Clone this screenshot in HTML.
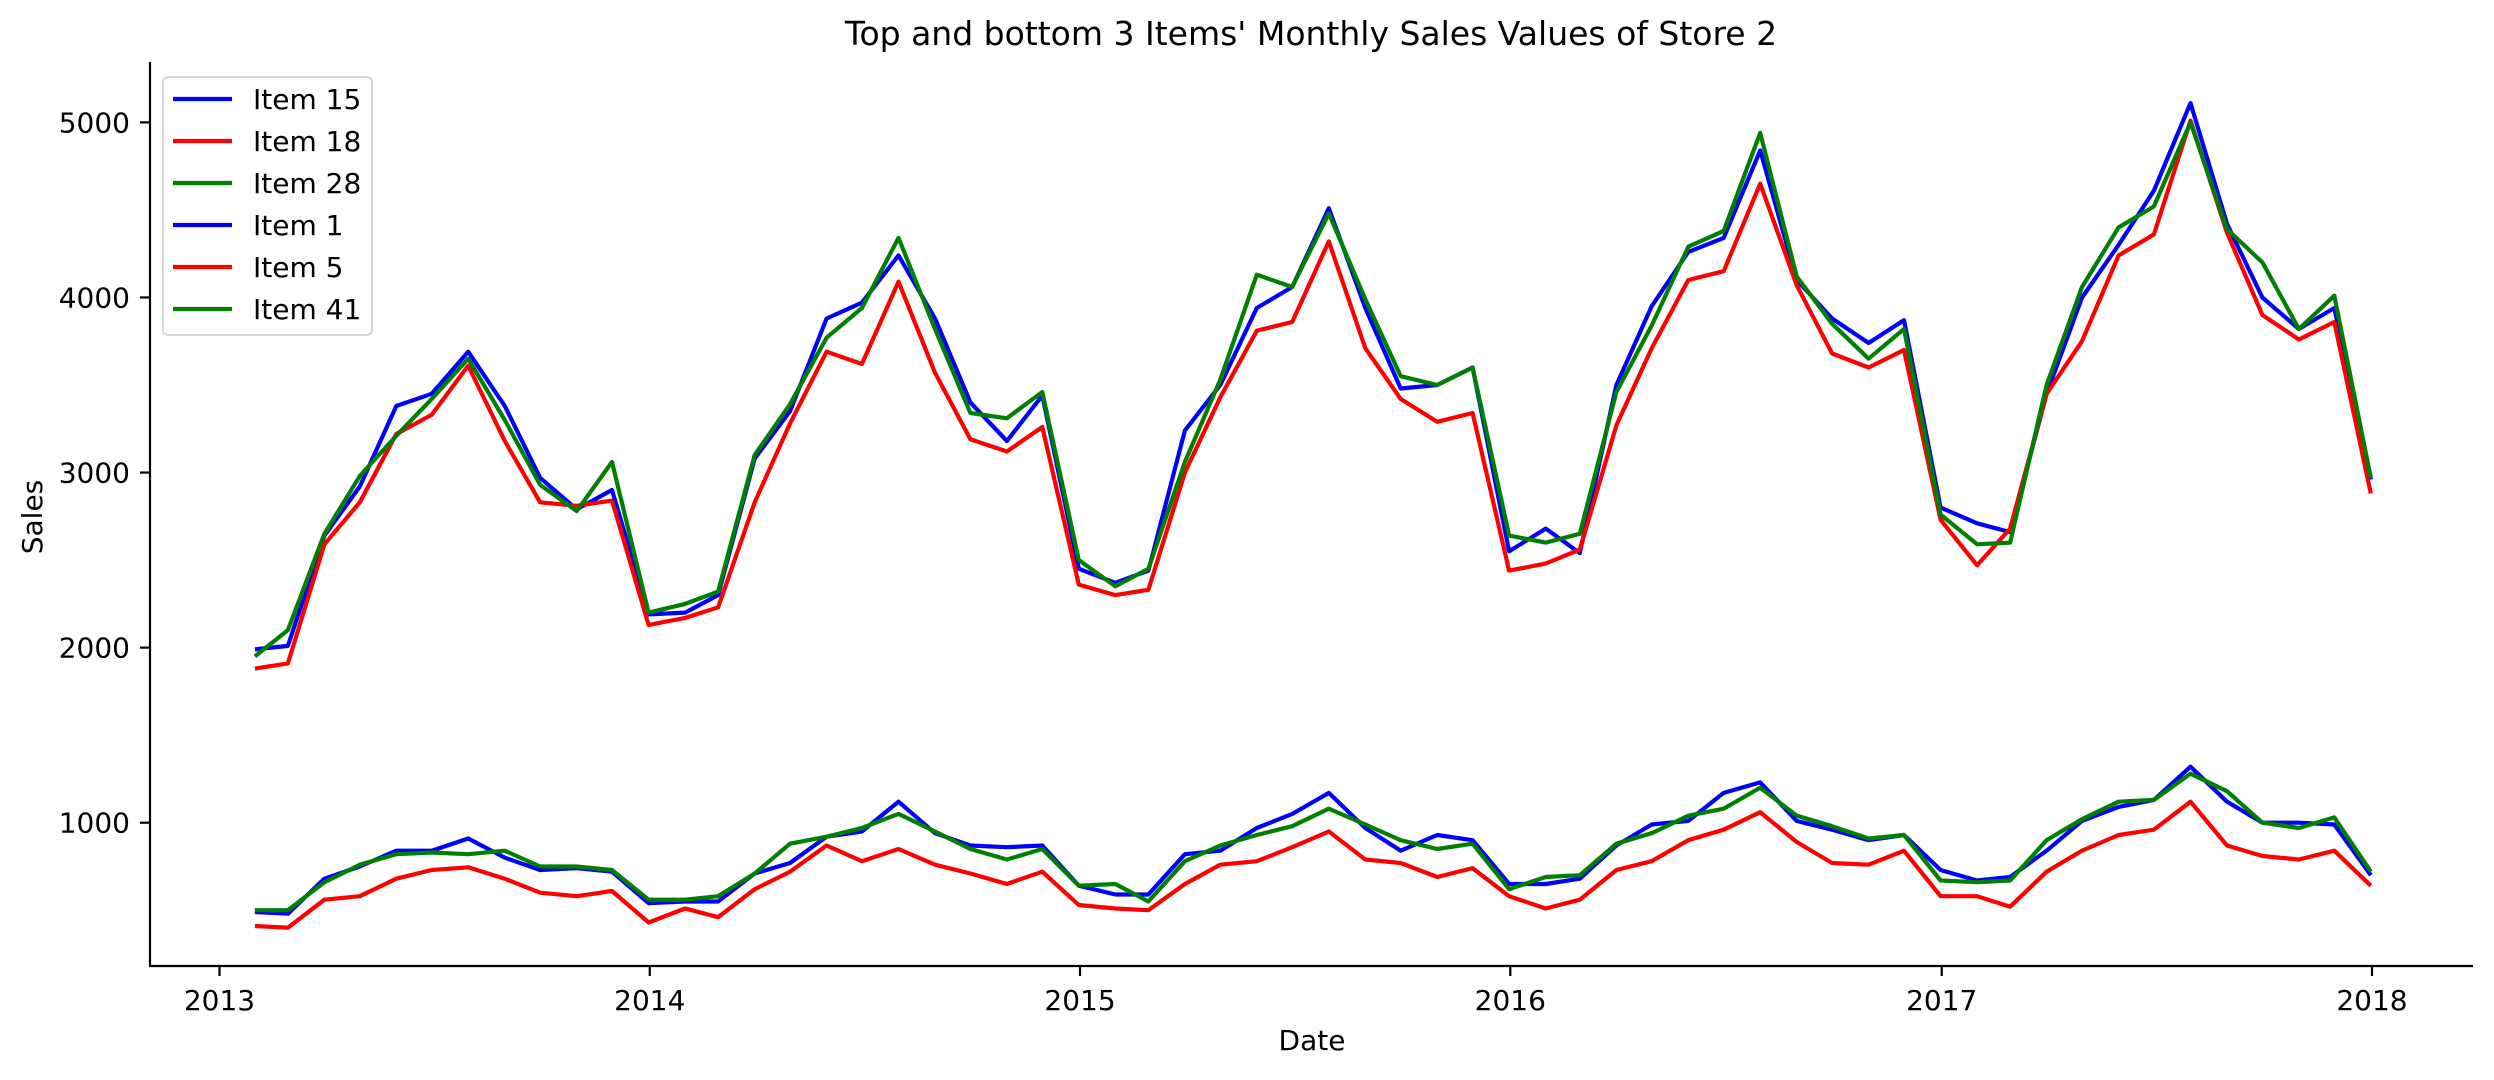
<!DOCTYPE html>
<html><head><meta charset="utf-8"><style>
html,body{margin:0;padding:0;background:#fff;}
svg text{font-family:"DejaVu Sans","Liberation Sans",sans-serif;fill:#000;}
</style></head><body>
<svg id="chart" width="2494" height="1075" xmlns="http://www.w3.org/2000/svg">
<rect width="2494" height="1075" fill="#fff"/>
<text x="1311" y="45" font-size="33" text-anchor="middle">Top and bottom 3 Items' Monthly Sales Values of Store 2</text>
<g id="plot"></g>
<g id="axes"></g>
<text x="1312" y="1050" font-size="28" text-anchor="middle">Date</text>
<text transform="translate(42,517) rotate(-90)" font-size="28" text-anchor="middle">Sales</text>
<g id="legend"></g>
</svg>
<script>
const years = [2013, 2014, 2015, 2016, 2017];
const yTicks = [1000, 2000, 3000, 4000, 5000];
const xTickLabels = ["2013", "2014", "2015", "2016", "2017", "2018"];
const seriesNames = ["Item 15", "Item 18", "Item 28", "Item 1", "Item 5", "Item 41"];
const seriesColors = ["#0000ff", "#ff0000", "#008000", "#0000ff", "#ff0000", "#008000"];
const item15 = [1990,2010,2640,2920,3380,3450,3690,3380,2970,2790,2900,2190,
 2200,2300,3080,3350,3880,3970,4240,3880,3400,3180,3440,2450,
 2370,2440,3240,3500,3940,4060,4510,3940,3480,3500,3600,2550,
 2680,2540,3500,3950,4260,4340,4840,4100,3880,3740,3870,2800,
 2710,2660,3450,4000,4300,4610,5110,4420,4000,3820,3940,2960];
const item18 = [1880,1910,2590,2830,3220,3330,3610,3180,2830,2810,2840,2130,
 2170,2230,2830,3280,3690,3620,4090,3570,3190,3120,3260,2360,
 2300,2330,3000,3430,3810,3860,4320,3710,3420,3290,3340,2440,
 2480,2560,3270,3710,4100,4150,4650,4070,3680,3600,3700,2730,
 2470,2680,3450,3750,4240,4360,5010,4370,3900,3760,3860,2880];
const item28 = [1950,2100,2650,2980,3210,3420,3650,3300,2930,2780,3060,2200,
 2250,2320,3100,3390,3770,3940,4340,3820,3340,3310,3460,2500,
 2350,2450,3060,3530,4130,4060,4480,3990,3550,3500,3600,2640,
 2600,2650,3460,3840,4290,4380,4940,4120,3850,3650,3820,2760,
 2590,2600,3500,4060,4400,4520,5000,4390,4200,3820,4010,2970];
const item1 = [490,480,680,750,840,840,910,800,730,740,720,540,
 550,550,710,770,920,950,1120,940,870,860,870,640,
 590,590,820,840,970,1050,1170,970,840,930,900,650,
 650,680,870,990,1010,1170,1230,1010,960,900,930,730,
 670,690,840,1010,1090,1130,1320,1120,1000,1000,990,700];
const item5 = [410,400,560,580,680,730,745,680,600,580,610,430,
 510,460,620,720,870,780,850,760,710,650,720,530,
 510,500,650,760,780,860,950,790,770,690,740,580,
 510,560,730,780,900,960,1060,890,770,760,840,580,
 580,520,720,840,930,960,1120,870,810,790,840,640];
const item41 = [500,500,660,760,820,830,820,840,750,750,730,560,
 560,580,710,880,920,970,1050,950,850,790,850,640,
 650,550,780,870,930,980,1080,990,900,850,880,620,
 690,700,880,940,1040,1080,1200,1040,980,910,930,670,
 660,670,900,1020,1120,1130,1280,1180,1000,970,1030,720];
const seriesData = [item15, item18, item28, item1, item5, item41];

const NS = "http://www.w3.org/2000/svg";
const L = 150, R = 2473, T = 62, B = 966;
const t0 = Date.UTC(2013,0,1), t1 = Date.UTC(2018,0,1);
function xScale(ms){ return 219.5 + (ms - t0)/(t1 - t0)*(5*430.5); }
function yScale(v){ return 822.7 - (v - 1000)*0.17508; }
function monthEnd(i){ const y = years[0] + Math.floor(i/12), m = i%12; return Date.UTC(y, m+1, 0); }
function mk(tag, attrs, parent){ const e = document.createElementNS(NS, tag); for (const k in attrs) e.setAttribute(k, attrs[k]); parent.appendChild(e); return e; }

const plot = document.getElementById('plot');
seriesData.forEach((arr, si) => {
  const pts = arr.map((v, i) => xScale(monthEnd(i)).toFixed(1) + ',' + yScale(v).toFixed(1)).join(' ');
  const pl = mk('polyline', {points: pts, fill: 'none', stroke: seriesColors[si], 'stroke-width': 4.2, 'stroke-linejoin': 'round'}, plot);
  
  
});

const axes = document.getElementById('axes');
const ls = mk('line', {x1: L, y1: T, x2: L, y2: B + 1, stroke: '#000', 'stroke-width': 2.2}, axes);


const bs = mk('line', {x1: L - 1, y1: B, x2: R, y2: B, stroke: '#000', 'stroke-width': 2.2}, axes);


yTicks.forEach(v => {
  const y = yScale(v);
  const tk = mk('line', {x1: L - 10, y1: y, x2: L, y2: y, stroke: '#000', 'stroke-width': 2.2}, axes);
  
  
  const tx = mk('text', {x: L - 20, y: y + 10, 'font-size': 28, 'text-anchor': 'end'}, axes);
  tx.textContent = String(v);
  
  
});
xTickLabels.forEach(lbl => {
  const x = xScale(Date.UTC(parseInt(lbl), 0, 1));
  const tk = mk('line', {x1: x, y1: B, x2: x, y2: B + 10, stroke: '#000', 'stroke-width': 2.2}, axes);
  
  
  const tx = mk('text', {x: x, y: B + 44, 'font-size': 28, 'text-anchor': 'middle'}, axes);
  tx.textContent = lbl;
  
  
});

const leg = document.getElementById('legend');
const box = mk('rect', {x: 163, y: 77, width: 209, height: 258, rx: 5, fill: '#fff', 'fill-opacity': 0.8, stroke: '#d6d6d6', 'stroke-width': 2}, leg);


seriesNames.forEach((n, i) => {
  const y = 99 + i*42;
  const ln = mk('line', {x1: 173, y1: y, x2: 232, y2: y, stroke: seriesColors[i], 'stroke-width': 4.2}, leg);
  
  
  const tx = mk('text', {x: 253, y: y + 10, 'font-size': 28}, leg);
  tx.textContent = n;
  
  
});
</script>
</body></html>
